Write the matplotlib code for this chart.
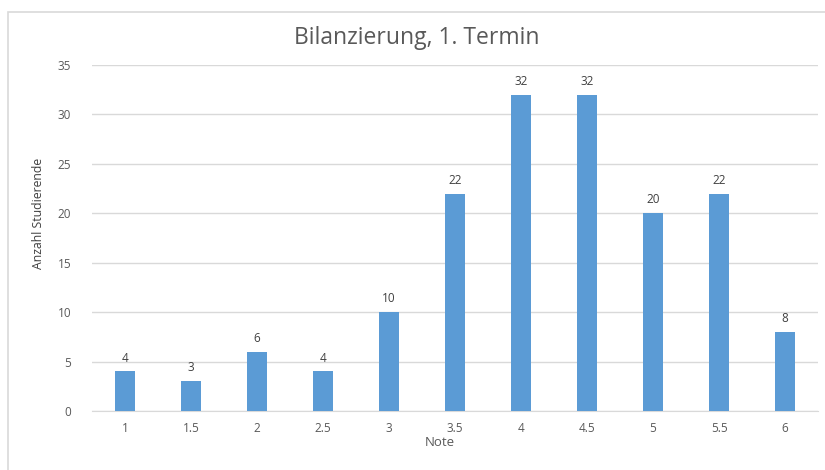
import matplotlib.pyplot as plt
from matplotlib.patches import Rectangle

noten = ['1', '1.5', '2', '2.5', '3', '3.5', '4', '4.5', '5', '5.5', '6']
anzahl = [4, 3, 6, 4, 10, 22, 32, 32, 20, 22, 8]

plt.rcParams['font.family'] = ['Open Sans', 'DejaVu Sans']

fig = plt.figure(figsize=(8.25, 4.7), dpi=100)
ax = fig.add_axes([92 / 825, 1 - 411 / 470, 726 / 825, 346 / 470])

# chart frame like excel
fig.patches.append(Rectangle((8 / 825, -0.1), 1.1, 1 - 12 / 470 + 0.1, transform=fig.transFigure,
                             fill=False, edgecolor='#d9d9d9', linewidth=1.2))

x = range(len(noten))
bars = ax.bar(x, anzahl, width=0.31, color='#5b9bd5', zorder=3)
for b, v in zip(bars, anzahl):
    ax.text(b.get_x() + b.get_width() / 2, v + 0.7, str(v), ha='center', va='bottom',
            fontsize=8.5, color='#404040')

ax.set_xlim(-0.5, len(noten) - 0.5)
ax.set_ylim(0, 35)
ax.set_yticks(range(0, 36, 5))
ax.set_xticks(list(x))
ax.set_xticklabels(noten)
ax.yaxis.grid(True, color='#d9d9d9', linewidth=1)
ax.set_axisbelow(True)
for s in ['top', 'right', 'left']:
    ax.spines[s].set_visible(False)
ax.spines['bottom'].set_color('#d9d9d9')
ax.tick_params(length=0, labelsize=8.5, labelcolor='#595959')
ax.tick_params(axis='y', pad=15)
ax.tick_params(axis='x', pad=8)

fig.text(417 / 825, 1 - 38 / 470, 'Bilanzierung, 1. Termin', fontsize=16.5, color='#595959',
         ha='center', va='center')
ax.set_xlabel('Note', fontsize=9.5, color='#595959')
ax.xaxis.set_label_coords((440 - 92) / 726, -(443 - 411) / 346)
ax.xaxis.label.set_va('center')
ax.set_ylabel('Anzahl Studierende', fontsize=8.8, color='#404040')
ax.yaxis.set_label_coords((38 - 92) / 726, (411 - 213) / 346)
ax.yaxis.label.set_va('center')

plt.savefig('out.png', dpi=100)
